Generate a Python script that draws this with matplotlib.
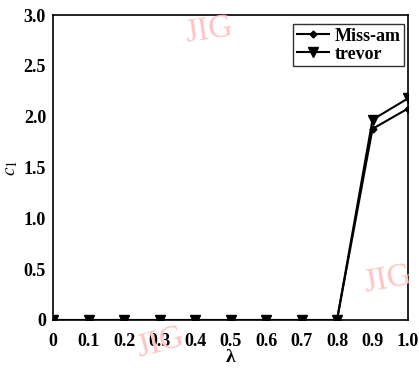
import matplotlib
matplotlib.use("Agg")
import matplotlib.pyplot as plt

lam = [0, 0.1, 0.2, 0.3, 0.4, 0.5, 0.6, 0.7, 0.8, 0.9, 1.0]
miss_am = [0, 0, 0, 0, 0, 0, 0, 0, 0, 1.88, 2.08]
trevor = [0, 0, 0, 0, 0, 0, 0, 0, 0, 1.97, 2.18]
xtick_labels = ["0", "0.1", "0.2", "0.3", "0.4", "0.5", "0.6", "0.7", "0.8", "0.9", "1.0"]
yticks = [0, 0.5, 1.0, 1.5, 2.0, 2.5, 3.0]
ytick_labels = ["0", "0.5", "1.0", "1.5", "2.0", "2.5", "3.0"]

plt.rcParams['font.family'] = ['Liberation Serif', 'DejaVu Serif']
plt.rcParams['mathtext.fontset'] = 'stix'
fig = plt.figure(figsize=(4.19, 3.72), dpi=100)
ax = fig.add_axes([53/419, 1-320/372, (408-53)/419, (320-15)/372])

ax.plot(lam, miss_am, color='black', lw=1.5, marker='D', ms=3.5, label='Miss-am', zorder=3)
ax.plot(lam, trevor, color='black', lw=1.5, marker='v', ms=7, label='trevor', zorder=2)

ax.set_xlim(0, 1.0)
ax.set_ylim(0, 3.0)
ax.set_xticks(lam)
ax.set_xticklabels(xtick_labels, fontweight='bold', fontsize=13)
ax.set_yticks(yticks)
ax.set_yticklabels(ytick_labels, fontweight='bold', fontsize=13)
ax.tick_params(axis='x', length=0, pad=9)
ax.tick_params(axis='y', length=0, pad=5)
ax.set_xlabel('λ', fontweight='bold', fontsize=14, labelpad=0)
ax.set_ylabel('$c_1$', fontsize=14, labelpad=3)

leg = ax.legend(loc='upper right', prop={'weight': 'bold', 'size': 13},
                frameon=True, fancybox=False, edgecolor='black', handlelength=1.8,
                borderpad=0.2, labelspacing=0.05, handletextpad=0.3,
                borderaxespad=0, bbox_to_anchor=(0.99, 0.97))
leg.get_frame().set_linewidth(1.0)

for s in ax.spines.values():
    s.set_linewidth(1.2)

wm = dict(color='#ffc4c4', fontsize=24, ha='center', va='center', zorder=0)
fig.text(209/419, 1-30/372, 'JIG', rotation=8, **wm)
fig.text(388/419, 1-280/372, 'JIG', rotation=10, **wm)
fig.text(160/419, 1-343/372, 'JIG', rotation=15, **wm)

fig.savefig('out.png', dpi=100)
